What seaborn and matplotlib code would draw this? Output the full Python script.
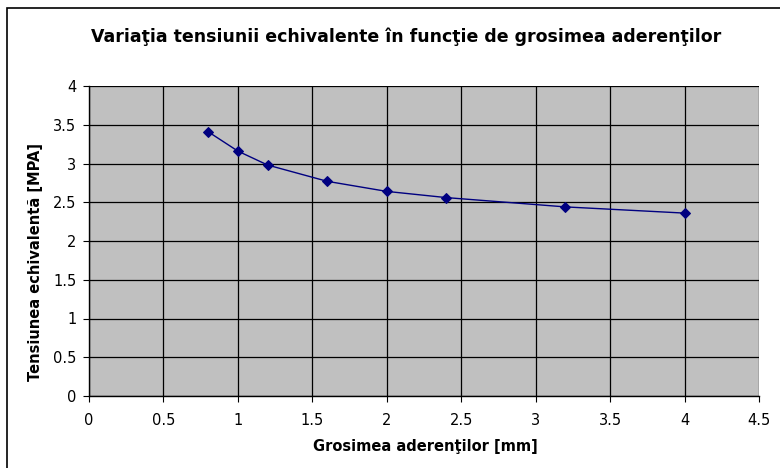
import seaborn as sns
import matplotlib.pyplot as plt
import matplotlib.patches as mpatches
import pandas as pd

# data
grosime = [0.8, 1.0, 1.2, 1.6, 2.0, 2.4, 3.2, 4.0]
tensiune = [3.41, 3.16, 2.98, 2.77, 2.64, 2.56, 2.44, 2.36]
x_ticks = [0, 0.5, 1, 1.5, 2, 2.5, 3, 3.5, 4, 4.5]
y_ticks = [0, 0.5, 1, 1.5, 2, 2.5, 3, 3.5, 4]

df = pd.DataFrame({'Grosime': grosime, 'Tensiune': tensiune})

sns.set_style("white")
# the reference text is rendered wide, DejaVu Sans matches its proportions
plt.rcParams['font.family'] = ['DejaVu Sans']
plt.rcParams['text.color'] = 'black'
plt.rcParams['axes.labelcolor'] = 'black'
plt.rcParams['xtick.color'] = 'black'
plt.rcParams['ytick.color'] = 'black'

fig = plt.figure(figsize=(7.8, 4.68), dpi=100)
ax = fig.add_axes([89 / 780, 1 - 396 / 468, 670 / 780, 310 / 468])
ax.set_facecolor('#c0c0c0')

sns.lineplot(data=df, x='Grosime', y='Tensiune', ax=ax, color='#000080',
             marker='D', markersize=5, markeredgecolor='#000080',
             linewidth=1.0, zorder=3)

ax.set_xlim(0, 4.5)
ax.set_ylim(0, 4)
ax.set_xticks(x_ticks)
ax.set_yticks(y_ticks)
ax.set_xticklabels([f'{v:g}' for v in x_ticks])
ax.set_yticklabels([f'{v:g}' for v in y_ticks])
ax.grid(True, color='black', linewidth=0.9)
ax.set_axisbelow(True)
ax.tick_params(axis='both', direction='out', length=4, width=0.8,
               color='black', labelcolor='black', labelsize=10.5,
               bottom=True, left=True)
ax.tick_params(axis='x', pad=8)
ax.tick_params(axis='y', pad=5)
for side in ['top', 'right']:
    ax.spines[side].set_visible(False)
for side in ['left', 'bottom']:
    ax.spines[side].set_color('black')
    ax.spines[side].set_linewidth(1.0)

ax.set_xlabel('Grosimea aderenţilor [mm]', fontsize=10.5, fontweight='bold', color='black')
ax.set_ylabel('Tensiunea echivalentă [MPA]', fontsize=10.5, fontweight='bold', color='black')
ax.xaxis.set_label_coords((425 - 89) / 670, (396 - 439) / 310)
ax.yaxis.set_label_coords((43 - 89) / 670, (396 - 262) / 310)

fig.text(406 / 780, 1 - 37 / 468, 'Variaţia tensiunii echivalente în funcţie de grosimea aderenţilor',
         ha='center', va='center', fontsize=12.5, fontweight='bold', color='black')

# chart border (cut off at right and bottom in the reference)
fig.patches.append(mpatches.Rectangle((7 / 780, -0.1), 1.1, 1 - 8 / 468 + 0.1,
                                      transform=fig.transFigure, fill=False,
                                      edgecolor='black', linewidth=1.2))

plt.savefig('out.png', dpi=100)
